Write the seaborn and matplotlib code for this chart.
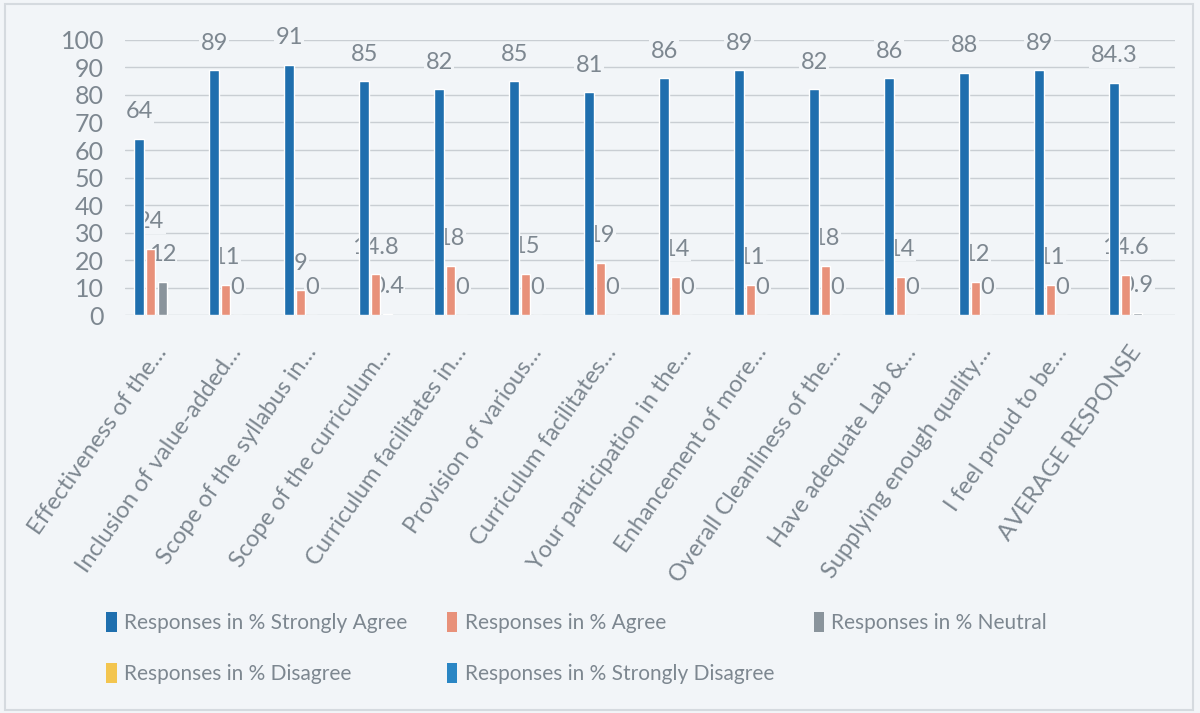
import numpy as np
import pandas as pd
import matplotlib
matplotlib.use("Agg")
import matplotlib.pyplot as plt
import seaborn as sns
from matplotlib.patches import Patch, Rectangle

questions = [
    "Effectiveness of the…",
    "Inclusion of value-added…",
    "Scope of the syllabus in…",
    "Scope of the curriculum…",
    "Curriculum facilitates in…",
    "Provision of various…",
    "Curriculum facilitates…",
    "Your participation in the…",
    "Enhancement of more…",
    "Overall Cleanliness of the…",
    "Have adequate Lab &…",
    "Supplying enough quality…",
    "I feel proud to be…",
    "AVERAGE RESPONSE",
]
strongly_agree = [64, 89, 91, 85, 82, 85, 81, 86, 89, 82, 86, 88, 89, 84.3]
agree = [24, 11, 9, 14.8, 18, 15, 19, 14, 11, 18, 14, 12, 11, 14.6]
neutral = [12, 0, 0, 0.4, 0, 0, 0, 0, 0, 0, 0, 0, 0, 0.9]
disagree = [np.nan] * 14
strongly_disagree = [np.nan] * 14

series = [
    "Responses in % Strongly Agree",
    "Responses in % Agree",
    "Responses in % Neutral",
    "Responses in % Disagree",
    "Responses in % Strongly Disagree",
]
colors = ["#1f6fae", "#e8917a", "#8a949c", "#f3c54f", "#2a86c4"]
labelled = [strongly_agree, agree, neutral]

df = pd.DataFrame({
    "question": questions * 5,
    "series": np.repeat(series, 14),
    "value": strongly_agree + agree + neutral + disagree + strongly_disagree,
})

bg = "#f2f5f8"
txt = "#7d8790"

sns.set_theme(style="white")
plt.rcParams["font.family"] = ["Lato", "DejaVu Sans"]

fig = plt.figure(figsize=(12, 7.13), dpi=100, facecolor=bg)
ax = fig.add_axes([0.104, 0.558, 0.875, 0.386])
ax.set_facecolor(bg)

sns.barplot(data=df, x="question", y="value", hue="series", hue_order=series,
            palette=colors, order=questions, width=0.77, gap=0.18,
            legend=False, ax=ax, saturation=1, zorder=2)

# first three containers are strongly agree, agree, neutral
# labels sit above the gridlines but under the bars
for cont, vals in zip(ax.containers, labelled):
    labels = [f"{v:g}" for v in vals]
    texts = ax.bar_label(cont, labels=labels, padding=12, fontsize=17, color=txt)
    for t in texts:
        t.set_bbox(dict(facecolor=bg, edgecolor="none", pad=1.0))
        t.set_zorder(1)

ax.set_ylim(0, 100)
ax.set_xlim(-0.5, 13.5)
ax.set_yticks(range(0, 101, 10))
ax.yaxis.grid(True, color="#c9ced3", linewidth=1, zorder=0)
ax.set_axisbelow(True)
sns.despine(ax=ax, left=True, bottom=True)
ax.set_xlabel("")
ax.set_ylabel("")
ax.tick_params(axis="y", labelsize=18, colors=txt, length=0, pad=15)
ax.tick_params(axis="x", labelsize=17, colors=txt, length=0, pad=24)
plt.setp(ax.get_xticklabels(), rotation=55, ha="right", va="center",
         rotation_mode="anchor")

# legend fills column-wise, so reorder to read row-wise like the original
order = [0, 3, 1, 4, 2]
handles = [Patch(facecolor=colors[i], edgecolor="none") for i in order]
fig.legend(handles, [series[i] for i in order], loc="upper left",
           bbox_to_anchor=(0.073, 0.168), ncol=3, frameon=False, fontsize=15,
           labelcolor=txt, handlelength=0.5, handleheight=1.1,
           handletextpad=0.35, columnspacing=1.9, labelspacing=1.45)

fig.patches.append(Rectangle((0.004, 0.004), 0.99, 0.99, transform=fig.transFigure,
                             fill=False, edgecolor="#d5dadf", linewidth=1.5))

fig.savefig("out.png", dpi=100, facecolor=bg)
